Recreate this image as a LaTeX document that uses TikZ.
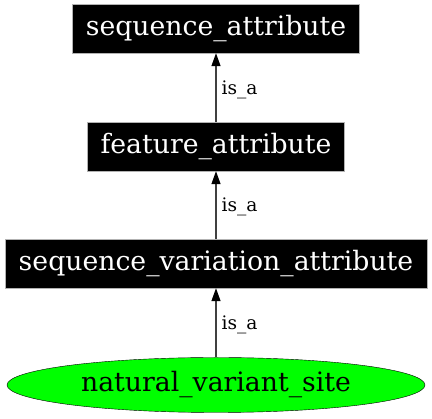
\documentclass[tikz,border=0pt]{standalone}
\usepackage{fontspec}
\setmainfont{DejaVu Serif}
\usetikzlibrary{shapes.geometric,arrows.meta}
\begin{document}
\begin{tikzpicture}[x=1pt,y=-1pt,
  blackbox/.style={draw=gray!60,fill=black,text=white,font=\fontsize{26.7}{28}\selectfont,inner sep=0pt},
  greenell/.style={ellipse,draw=black,fill=green,text=black,font=\fontsize{26.7}{28}\selectfont,inner sep=0pt},
  isa/.style={draw=black!75,line width=1.3pt,-{Triangle[length=13pt,width=9pt,color=black,fill=black]}},
  lbl/.style={font=\fontsize{18.6}{20}\selectfont,anchor=west,inner sep=0pt,yshift=-2pt}]
\useasboundingbox (0,0) rectangle (432,419);
\node[blackbox,minimum width=287,minimum height=49] (sa) at (216,28.5) {sequence\_attribute};
\node[blackbox,minimum width=257,minimum height=49] (fa) at (216,146.5) {feature\_attribute};
\node[blackbox,minimum width=422,minimum height=49] (sva) at (216,263.5) {sequence\_variation\_attribute};
\node[greenell,minimum width=418,minimum height=55] (nvs) at (216,385) {natural\_variant\_site};
\draw[isa] (fa) -- node[lbl,right=5pt] {is\_a} (sa);
\draw[isa] (sva) -- node[lbl,right=5pt] {is\_a} (fa);
\draw[isa] (nvs) -- node[lbl,right=5pt] {is\_a} (sva);
\end{tikzpicture}
\end{document}
